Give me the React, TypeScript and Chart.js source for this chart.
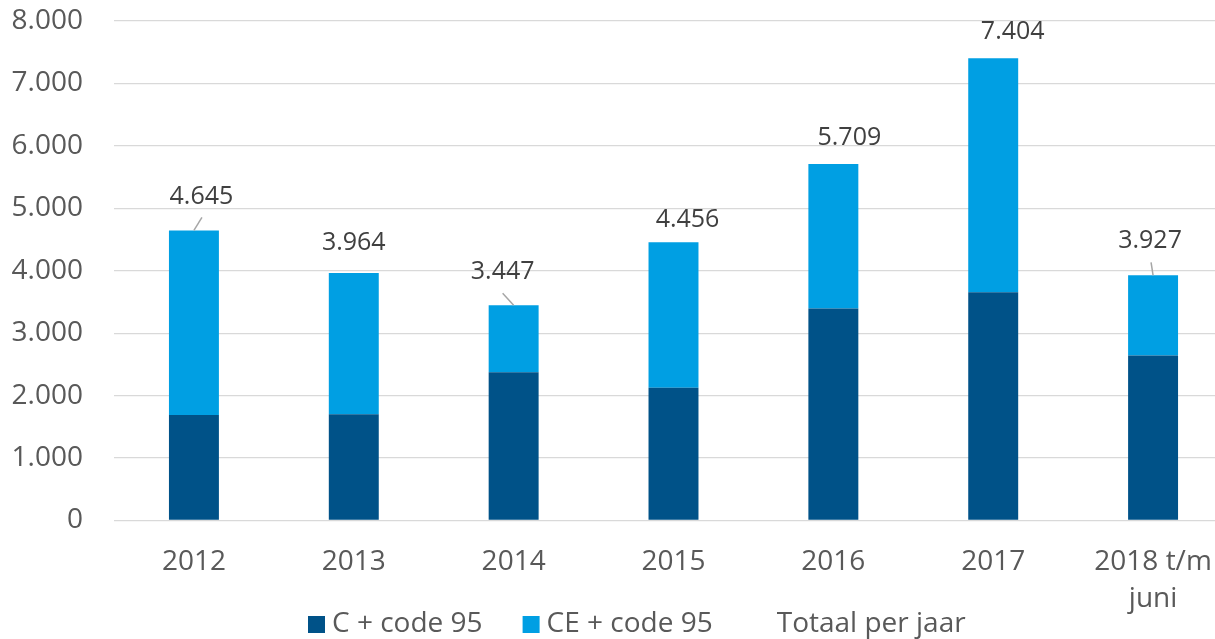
import React, { useEffect, useRef } from 'react';
import { Chart, registerables } from 'chart.js';

Chart.register(...registerables);

const categories: (string | string[])[] = ['2012', '2013', '2014', '2015', '2016', '2017', ['2018 t/m', 'juni']];
const cValues = [1690, 1700, 2375, 2128, 3394, 3657, 2641];
const ceValues = [2955, 2264, 1072, 2328, 2315, 3747, 1286];
const totals = [4645, 3964, 3447, 4456, 5709, 7404, 3927];
const seriesNames = ['C + code 95', 'CE + code 95', 'Totaal per jaar'];
const yMax = 8000;
const yStep = 1000;

// label placement (pixels relative to the top of each stacked bar)
const labelOffsets: [number, number][] = [[7.5, -34], [0, -30], [-11, -33], [14, -22], [16, -26], [19.5, -26], [-3, -34]];
const leaderLines: ([number, number] | null)[] = [[8, -13], null, [-11, -12], null, null, null, [-2, -13]];

const DARK = '#005288';
const LIGHT = '#009FE3';
const FONT = '"Open Sans", "DejaVu Sans", sans-serif';

const fmt = (n: number) => String(n).replace(/\B(?=(\d{3})+(?!\d))/g, '.');

const overlayPlugin = {
  id: 'overlay',
  afterDatasetsDraw(chart: any) {
    const ctx = chart.ctx as CanvasRenderingContext2D;
    const meta = chart.getDatasetMeta(2);
    ctx.save();
    ctx.font = `25px ${FONT}`;
    ctx.fillStyle = '#404040';
    ctx.textAlign = 'center';
    ctx.textBaseline = 'middle';
    meta.data.forEach((pt: any, i: number) => {
      const x = pt.x;
      const y = pt.y;
      const lead = leaderLines[i];
      if (lead) {
        ctx.strokeStyle = '#A6A6A6';
        ctx.lineWidth = 1.5;
        ctx.beginPath();
        ctx.moveTo(x, y);
        ctx.lineTo(x + lead[0], y + lead[1]);
        ctx.stroke();
      }
      const [dx, dy] = labelOffsets[i];
      ctx.fillText(fmt(totals[i]), x + dx, y + dy);
    });
    ctx.restore();

    // legend
    ctx.save();
    ctx.font = `28px ${FONT}`;
    ctx.textAlign = 'left';
    ctx.textBaseline = 'middle';
    let x = 308;
    const cy = 624.5;
    const box = 17;
    chart.data.datasets.forEach((ds: any, i: number) => {
      const col = i < 2 ? ds.backgroundColor : 'rgba(0,0,0,0)';
      ctx.fillStyle = col;
      ctx.fillRect(x, cy - box / 2, box, box);
      x += box + 7;
      ctx.fillStyle = '#595959';
      ctx.fillText(ds.label, x, cy);
      x += ctx.measureText(ds.label).width + 40;
    });
    ctx.restore();
  },
};

export default function App() {
  const ref = useRef<HTMLCanvasElement | null>(null);
  useEffect(() => {
    if (!ref.current) return;
    Chart.defaults.font.family = FONT;
    const chart = new Chart(ref.current, {
      type: 'bar',
      data: {
        labels: categories as any,
        datasets: [
          { label: seriesNames[0], data: cValues, backgroundColor: DARK, stack: 'bars', barPercentage: 0.3125, categoryPercentage: 1 },
          { label: seriesNames[1], data: ceValues, backgroundColor: LIGHT, stack: 'bars', barPercentage: 0.3125, categoryPercentage: 1 },
          { label: seriesNames[2], type: 'line', data: totals, stack: 'total', showLine: false, pointRadius: 0, borderColor: 'rgba(0,0,0,0)', backgroundColor: 'rgba(0,0,0,0)' } as any,
        ],
      },
      options: {
        animation: false,
        responsive: false,
        devicePixelRatio: 1,
        layout: { padding: { top: 21, right: 7, left: 0, bottom: 0 } },
        plugins: { legend: { display: false }, tooltip: { enabled: false } },
        scales: {
          x: {
            stacked: true,
            grid: { display: false, drawTicks: false },
            border: { display: false },
            ticks: { color: '#595959', font: { size: 28, lineHeight: 1.32 }, padding: 23.5, maxRotation: 0, autoSkip: false },
            afterFit: (s: any) => { s.height = 118.5; s.paddingLeft = 0; s.paddingRight = 0; },
          },
          y: {
            stacked: true,
            min: 0,
            max: yMax,
            grid: { color: '#D9D9D9', lineWidth: 1.3, drawTicks: false },
            border: { display: false },
            ticks: { stepSize: yStep, color: '#595959', font: { size: 28 }, padding: 31, callback: (v: any) => fmt(Number(v)) },
            afterFit: (s: any) => { s.width = 114; s.paddingTop = 0; s.paddingBottom = 0; },
          },
        },
      },
      plugins: [overlayPlugin],
    });
    return () => chart.destroy();
  }, []);
  return (
    <div style={{ position: 'fixed', left: 0, top: 0, width: 1240, height: 639, background: '#fff' }}>
      <canvas ref={ref} width={1240} height={639} style={{ display: 'block' }} />
    </div>
  );
}
